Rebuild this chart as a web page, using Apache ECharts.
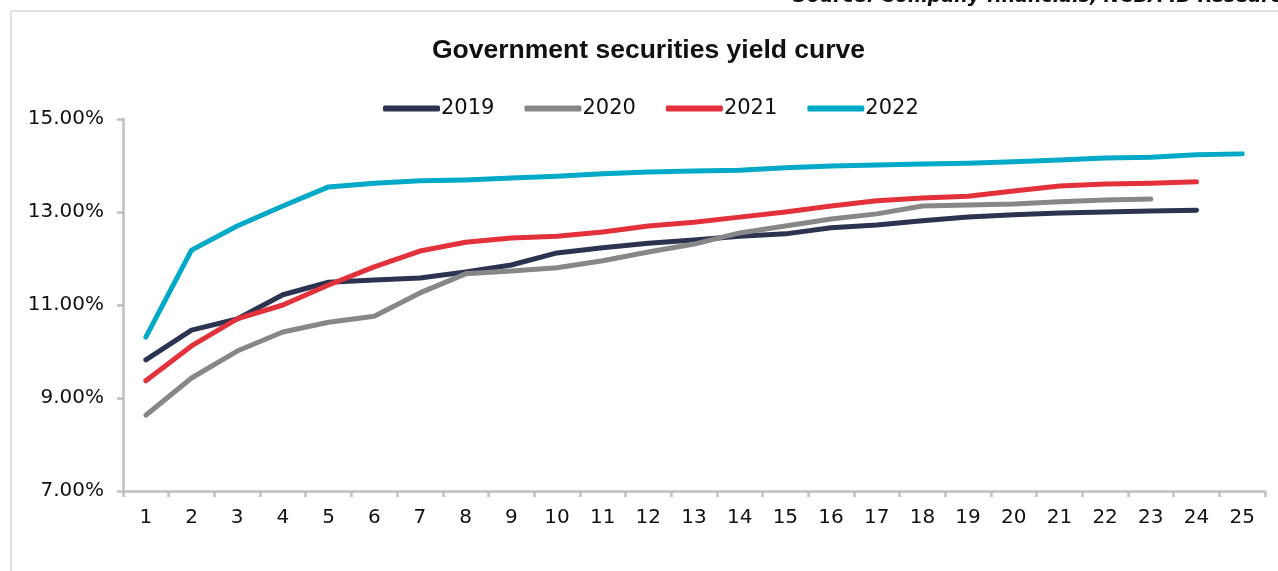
<!DOCTYPE html>
<html>
<head>
<meta charset="utf-8">
<script src="https://cdn.jsdelivr.net/npm/echarts@6/dist/echarts.min.js"></script>
<style>
  html, body { margin: 0; padding: 0; background: #ffffff; }
  #chart { width: 1278px; height: 571px; }
</style>
</head>
<body>
<div id="chart"></div>
<script>
// Tenor (years)
const tenors = ['1','2','3','4','5','6','7','8','9','10','11','12','13','14','15','16','17','18','19','20','21','22','23','24','25'];

// Yields (%) by tenor for each year
const y2019 = [9.82, 10.46, 10.70, 11.22, 11.49, 11.54, 11.58, 11.71, 11.86, 12.12, 12.23, 12.33, 12.40, 12.48, 12.53, 12.66, 12.72, 12.81, 12.89, 12.94, 12.98, 13.00, 13.02, 13.04];
const y2020 = [8.63, 9.43, 10.01, 10.42, 10.63, 10.76, 11.26, 11.67, 11.73, 11.80, 11.95, 12.14, 12.31, 12.55, 12.70, 12.85, 12.96, 13.13, 13.15, 13.17, 13.22, 13.26, 13.28];
const y2021 = [9.37, 10.12, 10.70, 11.00, 11.43, 11.82, 12.16, 12.35, 12.44, 12.48, 12.57, 12.70, 12.78, 12.89, 13.00, 13.13, 13.24, 13.30, 13.34, 13.45, 13.56, 13.60, 13.62, 13.65];
const y2022 = [10.31, 12.18, 12.70, 13.13, 13.54, 13.62, 13.67, 13.69, 13.73, 13.77, 13.82, 13.86, 13.88, 13.90, 13.95, 13.99, 14.01, 14.03, 14.05, 14.08, 14.12, 14.16, 14.18, 14.23, 14.25];

const seriesNames = ['2019', '2020', '2021', '2022'];
const seriesData = [y2019, y2020, y2021, y2022];
const seriesColors = ['#2b3350', '#878787', '#e3313b', '#00a9c8'];

const FONT = '"DejaVu Sans", sans-serif';
const TITLE_FONT = '"Liberation Sans", Arial, sans-serif';

const chart = echarts.init(document.getElementById('chart'), null, { renderer: 'canvas' });

chart.setOption({
  backgroundColor: '#ffffff',
  animation: false,
  title: {
    text: 'Government securities yield curve',
    left: 427,
    top: 32,
    textStyle: { fontFamily: TITLE_FONT, fontSize: 26.5, fontWeight: 'bold', color: '#111111' }
  },
  legend: {
    data: seriesNames,
    left: 378,
    top: 93,
    itemWidth: 57,
    itemHeight: 6,
    itemGap: 30,
    icon: 'roundRect',
    textStyle: { fontFamily: FONT, fontSize: 21, color: '#111111', padding: [0, 0, 0, -4] }
  },
  graphic: [
    {
      type: 'rect',
      shape: { x: 11, y: 11, width: 1300, height: 600 },
      style: { fill: 'none', stroke: '#d9d9d9', lineWidth: 1.5 },
      silent: true
    },
    {
      type: 'text',
      left: 793,
      top: -12,
      style: {
        text: 'Source: Company financials, NCBA IB Research',
        fontFamily: FONT,
        fontSize: 19,
        fontWeight: 'bold',
        fontStyle: 'italic',
        fill: '#111111'
      },
      silent: true
    }
  ],
  grid: { left: 123, right: 13, top: 119, bottom: 80 },
  xAxis: {
    type: 'category',
    data: tenors,
    boundaryGap: true,
    axisLine: { lineStyle: { color: '#bfbfbf', width: 2.5 } },
    axisTick: { show: true, alignWithLabel: false, length: 6, lineStyle: { color: '#bfbfbf', width: 2.5 } },
    axisLabel: { fontFamily: FONT, fontSize: 20, color: '#111111', margin: 17 },
    splitLine: { show: false }
  },
  yAxis: {
    type: 'value',
    min: 7,
    max: 15,
    interval: 2,
    axisLine: { show: true, lineStyle: { color: '#bfbfbf', width: 2.5 } },
    axisTick: { show: true, length: 6, lineStyle: { color: '#bfbfbf', width: 2.5 } },
    axisLabel: {
      fontFamily: FONT, fontSize: 20, color: '#111111', margin: 19,
      formatter: v => v.toFixed(2) + '%'
    },
    splitLine: { show: false }
  },
  series: seriesNames.map((name, i) => ({
    name: name,
    type: 'line',
    data: seriesData[i],
    symbol: 'none',
    smooth: false,
    lineStyle: { color: seriesColors[i], width: 5, cap: 'round', join: 'round' },
    itemStyle: { color: seriesColors[i] }
  }))
});
</script>
</body>
</html>
